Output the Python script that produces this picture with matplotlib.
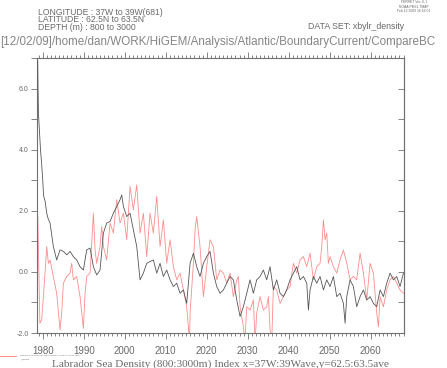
import matplotlib
matplotlib.use("Agg")
import matplotlib.pyplot as plt
from matplotlib.ticker import MultipleLocator

# ---- data ----
black_years = [1978.78, 1978.85, 1978.95, 1979.2, 1979.45, 1979.7, 1980.0, 1980.2, 1980.6, 1980.97,
               1981.3, 1981.78, 1982.59, 1983.4, 1984.22, 1985.03, 1985.85, 1986.66, 1987.47, 1988.28,
               1989.1, 1989.91, 1990.72, 1991.54, 1992.35, 1993.16, 1993.97, 1994.79, 1995.6, 1996.41,
               1997.23, 1998.04, 1998.85, 1999.26, 1999.67, 2000.48, 2001.29, 2002.1, 2002.92, 2003.73,
               2004.54, 2005.36, 2006.17, 2006.98, 2007.8, 2008.61, 2009.42, 2010.23, 2011.05, 2011.86,
               2012.67, 2013.49, 2014.3, 2015.11, 2015.93, 2016.74, 2017.55, 2018.36, 2019.18, 2019.99,
               2020.8, 2021.62, 2022.43, 2023.24, 2024.06, 2024.87, 2025.68, 2026.49, 2027.31, 2028.12,
               2028.93, 2029.75, 2030.56, 2031.37, 2032.18, 2033.0, 2033.81, 2034.62, 2035.44, 2036.25,
               2037.06, 2037.88, 2038.69, 2039.5, 2040.31, 2041.13, 2041.94, 2042.75, 2043.57, 2044.38,
               2044.79, 2045.19, 2046.01, 2046.82, 2047.63, 2048.45, 2049.26, 2050.07, 2050.88, 2051.7,
               2052.51, 2053.32, 2053.73, 2054.14, 2054.95, 2055.76, 2056.57, 2057.39, 2058.2, 2059.01,
               2059.83, 2060.64, 2061.45, 2062.27, 2063.08, 2063.89, 2064.7, 2065.52, 2066.33, 2067.14,
               2067.96]
black_values = [6.9, 6.0, 5.2, 4.6, 4.0, 3.6, 3.0, 2.5, 2.3, 1.92,
                1.75, 1.6, 0.83, 0.39, 0.72, 0.67, 0.56, 0.67, 0.5, 0.39,
                0.17, 0.06, 0.72, 0.78, 0.17, -0.1, 0.06, 1.27, 1.6, 1.65,
                1.92, 2.14, 2.36, 2.52, 2.14, 1.81, 1.92, 1.38, 0.83, -0.26,
                -0.04, 0.28, 0.34, 0.39, -0.04, 0.28, -0.15, 0.06, -0.26, -0.48,
                -0.37, -0.7, -0.59, -1.03, 0.28, 0.61, 0.17, -0.15, 0.28, 0.5,
                0.67, -0.04, -0.48, -0.7, -0.59, -0.37, -0.15, -0.26, -0.92, -1.46,
                -1.14, -0.7, -0.26, -0.7, -0.26, -0.15, 0.06, -0.26, 0.17, -0.59,
                -0.26, -0.7, -0.81, -0.59, -0.26, -0.04, 0.17, -0.26, -0.15, -0.37,
                -1.25, -0.59, -0.15, -0.37, -0.15, -0.59, -0.26, -0.48, -0.15, -0.81,
                -0.7, -1.03, -1.68, -0.81, -0.26, -0.48, -1.14, -0.81, -0.59, -0.92,
                -0.81, -1.03, -1.14, -0.59, -0.81, -0.37, -0.04, -0.26, -0.15, -0.48,
                -0.04]

red_years = [1978.8, 1978.95, 1979.3, 1979.75, 1980.15, 1980.56, 1980.97, 1981.37, 1981.78, 1982.59,
             1983.4, 1984.22, 1984.63, 1985.03, 1985.85, 1986.66, 1987.06, 1987.47, 1988.28, 1989.1,
             1989.91, 1990.32, 1990.72, 1991.54, 1992.35, 1992.76, 1993.16, 1993.97, 1994.38, 1994.79,
             1995.6, 1996.41, 1997.23, 1998.04, 1998.85, 1999.67, 2000.48, 2001.29, 2002.1, 2002.92,
             2003.73, 2004.54, 2005.36, 2006.17, 2006.98, 2007.8, 2008.61, 2009.42, 2010.23, 2011.05,
             2011.86, 2012.67, 2013.49, 2014.3, 2015.11, 2015.52, 2015.8, 2015.93, 2016.74, 2017.15,
             2017.55, 2018.36, 2019.18, 2019.99, 2020.8, 2021.62, 2022.43, 2023.24, 2024.06, 2024.87,
             2025.68, 2026.49, 2027.31, 2027.71, 2028.12, 2028.93, 2029.3, 2029.75, 2030.56, 2031.37,
             2031.78, 2032.18, 2033.0, 2033.81, 2034.62, 2035.03, 2035.44, 2035.84, 2036.25, 2037.06,
             2037.88, 2038.69, 2039.5, 2040.31, 2041.13, 2041.94, 2042.75, 2043.57, 2044.38, 2045.19,
             2046.01, 2046.82, 2047.63, 2048.04, 2048.45, 2048.85, 2049.26, 2049.66, 2050.07, 2050.88,
             2051.7, 2052.51, 2053.32, 2054.14, 2054.95, 2055.76, 2056.57, 2057.39, 2058.2, 2059.01,
             2059.83, 2060.64, 2061.45, 2061.86, 2062.27, 2063.08, 2063.89, 2064.7, 2065.52, 2066.33,
             2067.14, 2067.96]
red_values = [1.8, 0.7, -1.68, -1.57, -0.81, -0.04, 0.83, 0.28, 0.39, -0.15,
              -0.7, -1.9, -1.35, -0.37, -0.15, -0.04, 0.28, -0.26, -0.15, -0.81,
              -1.85, -0.7, -0.15, -0.04, 1.92, 0.72, 0.28, 0.83, 1.49, 0.83,
              0.39, 1.6, 1.27, 2.36, 1.6, 1.92, 1.05, 2.8, 2.03, 2.85,
              1.27, 1.92, 0.5, 1.92, 1.27, 2.47, 0.83, 1.7, 0.28, 1.05,
              0.17, -0.26, -0.04, -0.59, -1.14, -1.8, -2.3, -1.35, 0.28, 1.38,
              1.81, 0.83, -0.81, 0.17, 1.05, 0.83, -0.26, 0.06, -0.04, -0.37,
              -0.04, -0.81, -0.26, -0.15, -1.14, -1.8, -2.3, -1.14, -1.25, -0.92,
              -2.3, -1.35, -0.81, -1.25, -1.14, -0.81, -1.9, -2.3, -0.48, -0.59,
              -1.03, -0.81, -0.59, -0.48, 0.28, -0.04, 0.39, 0.5, 0.17, 0.61,
              -0.26, 0.17, 0.28, 0.83, 1.7, 1.05, 1.27, 0.28, 0.5, 0.17,
              -0.04, 0.39, 0.72, 0.28, -0.26, -0.15, -0.26, 0.61, -0.04, -0.92,
              0.28, -0.04, -1.35, -1.8, -0.81, -1.14, -0.59, -0.26, -0.15, -0.37,
              -0.59, -0.7]

x_major = [1980, 1990, 2000, 2010, 2020, 2030, 2040, 2050, 2060]
x_labels = ["1980", "1990", "2000", "2010", "2020", "2030", "2040", "2050", "2060"]
y_major = [-2.0, 0.0, 2.0, 4.0, 6.0]
y_labels = ["-2.0", "0.0", "2.0", "4.0", "6.0"]

title_text = "Labrador Sea Density (800:3000m) Index x=37W:39Wave,y=62.5:63.5ave"
path_text = "[12/02/09]/home/dan/WORK/HiGEM/Analysis/Atlantic/BoundaryCurrent/CompareBC"
header_lines = ["LONGITUDE : 37W to 39W(681)", "LATITUDE : 62.5N to 63.5N", "DEPTH (m) : 800 to 3000"]
dataset_text = "DATA SET: xbylr_density"
ferret_lines = ["FERRET Ver. 6.1", "NOAA/PMEL TMAP", "Feb 12 2009 16:16:01"]
legend_lines = ["Labrador Sea density (800:3000m) - Index x=37W:39W", "_HiGEM"]

# ---- figure ----
W, H = 447, 368
fig = plt.figure(figsize=(W / 100, H / 100), dpi=100)
fig.patch.set_facecolor("white")
ax = fig.add_axes([37 / W, 1 - 333 / H, (404 - 37) / W, (333 - 58) / H])

GRAY = "#707070"
TXT = "#6a6a6a"

ax.plot(red_years, red_values, color="#ff7878", lw=0.6, alpha=0.85, zorder=2)
ax.plot(black_years, black_values, color="#555555", lw=0.6, zorder=3)

ax.set_xlim(1978.6, 2068.1)
ax.set_ylim(-2.0, 7.0)

for s in ax.spines.values():
    s.set_color(GRAY)
    s.set_linewidth(0.8)

ax.set_xticks(x_major)
ax.set_xticklabels(x_labels, fontfamily="Liberation Sans", fontsize=7, color=TXT)
ax.xaxis.set_minor_locator(MultipleLocator(1))
ax.tick_params(axis="x", which="both", direction="out", top=True, bottom=True,
               labeltop=False, color=GRAY, width=0.6, pad=5)
ax.tick_params(axis="x", which="major", length=4)
ax.tick_params(axis="x", which="minor", length=2)

ax.set_yticks(y_major)
ax.set_yticklabels(y_labels, fontfamily="Liberation Sans", fontsize=5, color=TXT)
ax.yaxis.set_minor_locator(MultipleLocator(1))
ax.tick_params(axis="y", which="both", direction="out", left=True, right=False,
               length=4, color=GRAY, width=0.6, pad=2)

sec = ax.secondary_yaxis("right")
sec.set_yticks([-2, -1, 0, 1, 2, 3, 4, 5, 6])
sec.tick_params(axis="y", direction="in", length=4, color=GRAY, width=0.6, labelright=False)
sec.spines["right"].set_color(GRAY)
sec.spines["right"].set_linewidth(0.8)

# ---- texts ----
fig.text(38 / W, 1 - 30 / H, "\n".join(header_lines), fontfamily="Liberation Sans", fontsize=6.2,
         color=TXT, va="baseline", linespacing=0.8)
fig.text(404 / W, 1 - 28.8 / H, dataset_text, fontfamily="Liberation Sans", fontsize=6.3,
         color=TXT, ha="right")
fig.text(0 / W, 1 - 45 / H, path_text, fontfamily="Liberation Sans", fontsize=8.4, color="#858585")
fig.text(414 / W, 1 - 12 / H, "\n".join(ferret_lines), fontfamily="Liberation Sans", fontsize=2.4,
         color=TXT, ha="center", va="baseline", multialignment="center", linespacing=1.1)

fig.text(220 / W, 1 - 366.8 / H, title_text, fontfamily="Liberation Serif", fontsize=8.1,
         color=TXT, ha="center")

# legend swatch and tiny label
fig.add_artist(plt.Line2D([0, 16 / W], [1 - 355.7 / H, 1 - 355.7 / H], color="#ff7878", lw=0.6))
fig.text(20 / W, 1 - 356.0 / H, legend_lines[0], fontfamily="Liberation Sans", fontsize=1.7,
         color=TXT)
fig.text(20 / W, 1 - 359.8 / H, legend_lines[1], fontfamily="Liberation Sans", fontsize=1.7,
         color=TXT)

fig.savefig("out.png", dpi=100, facecolor="white")
